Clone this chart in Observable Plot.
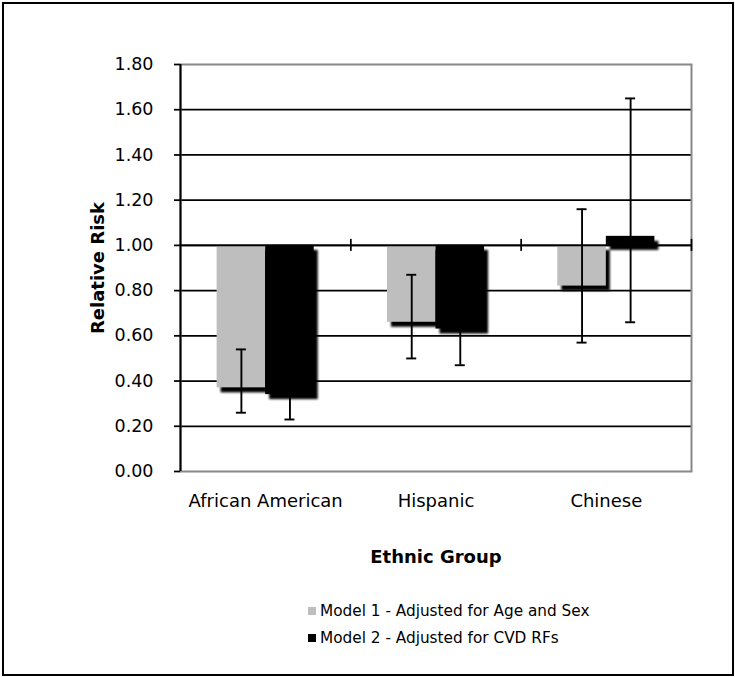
<!DOCTYPE html>
<html><head><meta charset="utf-8">
<script src="https://cdn.jsdelivr.net/npm/d3@7"></script>
<script src="https://cdn.jsdelivr.net/npm/@observablehq/plot@0.6"></script>
<style>
body{margin:0;background:#fff;font-family:"DejaVu Sans",Verdana,sans-serif;}
#wrap{position:relative;width:735px;height:677px;overflow:hidden;background:#fff;}
#chart{position:absolute;left:0;top:0;}
#border{position:absolute;left:2px;top:2px;width:732px;height:674px;border:2px solid #000;box-sizing:border-box;pointer-events:none;}
#legend{position:absolute;left:308px;top:597px;font-size:15.3px;color:#000;}
.item{display:flex;align-items:center;height:27px;white-space:nowrap;}
.sw{width:8px;height:8px;margin-right:4px;flex:none;}
</style></head>
<body><div id="wrap"><div id="chart"></div><div id="legend"></div><div id="border"></div></div>
<script>
// ---- data ----
const groups = ["African American", "Hispanic", "Chinese"];
const models = ["Model 1 - Adjusted for Age and Sex", "Model 2 - Adjusted for CVD RFs"];
const model1RR = [0.37, 0.66, 0.82];
const model1Lo = [0.26, 0.50, 0.57];
const model1Hi = [0.54, 0.87, 1.16];
const model2RR = [0.34, 0.63, 1.04];
const model2Lo = [0.23, 0.47, 0.66];
const model2Hi = [0.48, 0.84, 1.65];
const yTicks = [0, 0.2, 0.4, 0.6, 0.8, 1.0, 1.2, 1.4, 1.6, 1.8];
const colors = ["#bebebe", "#000000"];
const yLabel = "Relative Risk";
const xLabel = "Ethnic Group";

// ---- build table ----
const bw = 0.285; // bar width as fraction of a category slot
const rr = [model1RR, model2RR], lo = [model1Lo, model2Lo], hi = [model1Hi, model2Hi];
const rows = [];
groups.forEach((g, i) => {
  models.forEach((m, k) => {
    const x1 = i + 0.5 - (k === 0 ? bw : 0);
    rows.push({group: g, model: m, x1, x2: x1 + bw, xc: x1 + bw / 2, rr: rr[k][i], lo: lo[k][i], hi: hi[k][i]});
  });
});
const caps = rows.flatMap(r => [{xc: r.xc, v: r.lo}, {xc: r.xc, v: r.hi}]);
const boundaries = groups.map((g, i) => i + 1);

const chart = Plot.plot({
  width: 735, height: 677,
  marginLeft: 180, marginRight: 44, marginTop: 64, marginBottom: 206,
  style: {fontFamily: "DejaVu Sans, Verdana, sans-serif", fontSize: "17px", color: "#000", background: "transparent"},
  x: {domain: [0, groups.length], axis: null},
  y: {domain: [yTicks[0], yTicks[yTicks.length - 1]], axis: null},
  color: {domain: models, range: colors},
  marks: [
    Plot.ruleY(yTicks.slice(1, -1), {stroke: "#000", strokeWidth: 1.75}),
    Plot.frame({stroke: "#888", strokeWidth: 2}),
    Plot.rectY(rows, {x1: "x1", x2: "x2", y1: 1, y2: "rr", fill: "#000", dx: 4, dy: 5}),
    Plot.rectY(rows, {x1: "x1", x2: "x2", y1: 1, y2: "rr", fill: "model"}),
    Plot.ruleY([1], {stroke: "#000", strokeWidth: 1.75}),
    Plot.ruleX(boundaries, {y1: 1, y2: 1, insetTop: -6, insetBottom: -6, stroke: "#000", strokeWidth: 1.75}),
    Plot.ruleX([0], {stroke: "#000", strokeWidth: 2}),
    Plot.axisY({ticks: yTicks, tickFormat: d3.format(".2f"), tickSize: 6, tickPadding: 21, strokeWidth: 1.75, label: null, fontSize: 17.5}),
    Plot.ruleX(rows, {x: "xc", y1: "lo", y2: "hi", stroke: "#000", strokeWidth: 1.9}),
    Plot.ruleY(caps, {x1: "xc", x2: "xc", y: "v", insetLeft: -5, insetRight: -5, stroke: "#000", strokeWidth: 1.9}),
    Plot.text(groups, {x: (d, i) => i + 0.5, frameAnchor: "bottom", dy: 35, fontSize: 18}),
    Plot.text([xLabel], {frameAnchor: "bottom", dy: 91, fontWeight: "bold", fontSize: 18}),
    Plot.text([yLabel], {frameAnchor: "left", textAnchor: "middle", dx: -82, rotate: -90, fontWeight: "bold", fontSize: 18})
  ]
});
document.getElementById("chart").appendChild(chart);

// soft drop shadow
const svg = d3.select(chart);
const defs = svg.insert("defs", ":first-child");
defs.append("filter").attr("id", "shadowBlur").attr("x", "-20%").attr("y", "-20%").attr("width", "140%").attr("height", "140%")
  .append("feGaussianBlur").attr("stdDeviation", 1.2);
svg.select('g[aria-label="rect"]').attr("filter", "url(#shadowBlur)");

// legend
const legend = d3.select("#legend");
models.forEach((m, k) => {
  const it = legend.append("div").attr("class", "item");
  it.append("div").attr("class", "sw").style("background", colors[k]);
  it.append("span").text(m);
});
</script>
</body></html>
